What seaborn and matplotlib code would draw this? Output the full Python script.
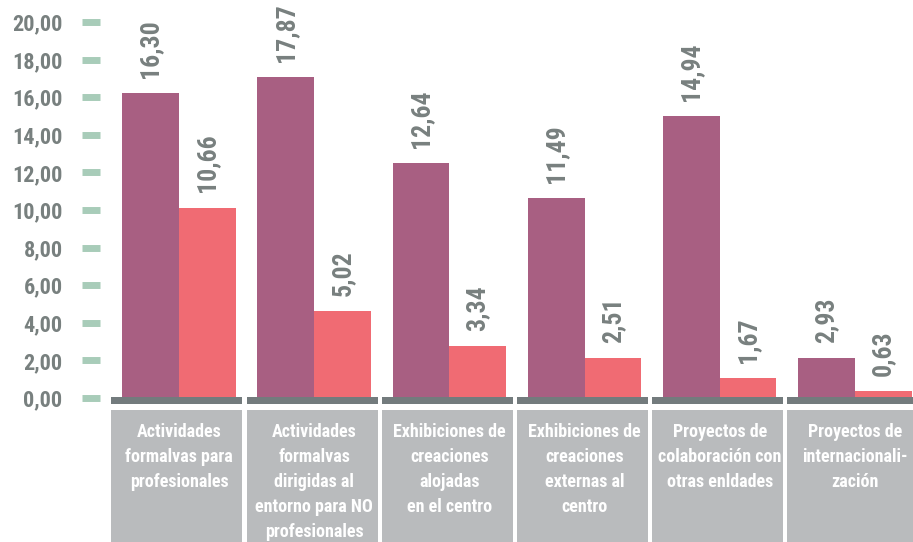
import matplotlib
matplotlib.use("Agg")
import matplotlib.pyplot as plt
from matplotlib import font_manager
from matplotlib.patches import Rectangle
import pandas as pd
import seaborn as sns

# datos
categorias = [
    "Actividades\nformalvas para\nprofesionales",
    "Actividades\nformalvas\ndirigidas al\nentorno para NO\nprofesionales",
    "Exhibiciones de\ncreaciones\nalojadas\nen el centro",
    "Exhibiciones de\ncreaciones\nexternas al\ncentro",
    "Proyectos de\ncolaboración con\notras enldades",
    "Proyectos de\ninternacionali-\nzación",
]
series = ["Serie A", "Serie B"]
altura_a = [16.2, 17.07, 12.5, 10.64, 15.0, 2.13]
altura_b = [10.13, 4.63, 2.77, 2.13, 1.06, 0.37]
etiquetas_a = ["16,30", "17,87", "12,64", "11,49", "14,94", "2,93"]
etiquetas_b = ["10,66", "5,02", "3,34", "2,51", "1,67", "0,63"]
yticks = [0, 2, 4, 6, 8, 10, 12, 14, 16, 18, 20]

morado = "#a85f82"
coral = "#f06b73"
gris_txt = "#78807f"
gris_base = "#737b7d"
gris_caja = "#b9bbbd"
verde = "#a8ccb9"

sns.set_style("white")
nombres = {f.name for f in font_manager.fontManager.ttflist}
familia = "Roboto"
for f in ["Roboto Condensed", "Open Sans Condensed", "Liberation Sans Narrow",
          "DejaVu Sans Condensed"]:
    if f in nombres:
        familia = f
        break
plt.rcParams["font.family"] = [familia, "DejaVu Sans"]
plt.rcParams["font.weight"] = "bold"

df = pd.DataFrame({
    "categoria": categorias * 2,
    "serie": [series[0]] * 6 + [series[1]] * 6,
    "valor": altura_a + altura_b,
})

fig = plt.figure(figsize=(9.13, 5.42), dpi=100)
ax = fig.add_axes([100 / 913, 144 / 542, 813 / 913, 376 / 542])
sns.barplot(data=df, x="categoria", y="valor", hue="serie", order=categorias,
            hue_order=series, palette=[morado, coral], width=0.84,
            saturation=1, legend=False, linewidth=0, ax=ax)

ax.set_xlim(-0.584, 5.43)
ax.set_ylim(0, 20)
ax.set_yticks(yticks)
ax.set_yticklabels([f"{v:.2f}".replace(".", ",") for v in yticks])
ax.tick_params(axis="y", direction="out", length=13, width=5, color=verde,
               pad=14, labelsize=16, labelcolor=gris_txt, left=True)
ax.tick_params(axis="x", bottom=False, labelbottom=False)
ax.set_xlabel("")
ax.set_ylabel("")
for s in ax.spines.values():
    s.set_visible(False)

for cont, etiq in zip(ax.containers, [etiquetas_a, etiquetas_b]):
    ax.bar_label(cont, labels=etiq, rotation=90, padding=11, fontsize=18.5,
                 color=gris_txt, fontweight="bold")

# linea base y cajas de categoria
for i, cat in enumerate(categorias):
    ax.add_patch(Rectangle((i - 0.5, -0.34), 0.97, 0.38, color=gris_base,
                           clip_on=False, zorder=5, lw=0))
    ax.add_patch(Rectangle((i - 0.5, -8.0), 0.97, 7.36, color=gris_caja,
                           clip_on=False, zorder=5, lw=0))
    ax.text(i, -1.35, cat, ha="center", va="top", color="white", fontsize=13,
            fontweight="bold", linespacing=1.5, zorder=6, clip_on=False)

fig.savefig("out.png", dpi=100)
